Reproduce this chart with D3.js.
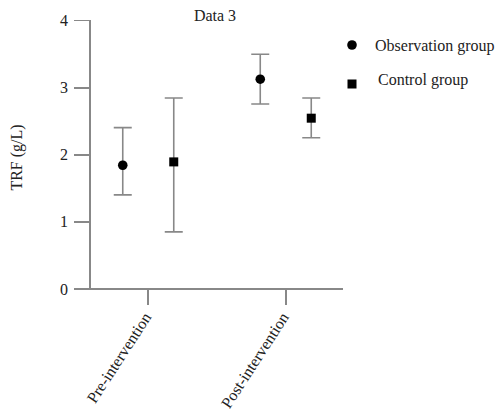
<!DOCTYPE html>
<html>
<head>
<meta charset="utf-8">
<script src="https://cdn.jsdelivr.net/npm/d3@7"></script>
<style>
	body { margin: 0; background: #fff; overflow: hidden; }
	text { font-family: "Liberation Serif", "Times New Roman", serif; fill: #222; }
</style>
</head>
<body>
<svg id="chart" width="498" height="415"></svg>
<script>
const categories = ["Pre-intervention", "Post-intervention"];
const groups = ["Observation group", "Control group"];
const means = [[1.84, 3.12], [1.89, 2.54]];
const upper = [[2.40, 3.49], [2.84, 2.84]];
const lower = [[1.40, 2.75], [0.85, 2.25]];
const yTicks = [0, 1, 2, 3, 4];

const svg = d3.select("#chart");
const axisColor = "#888";
const fontSize = "16px";

const y = d3.scaleLinear().domain([0, 4]).range([289, 20]);
const x = d3.scalePoint().domain(categories).range([90, 343]).padding(0.42);
const offset = d3.scalePoint().domain(groups).range([-25, 26]);

// y axis
const yAxis = svg.append("g")
	.attr("transform", "translate(90,0)")
	.call(d3.axisLeft(y).tickValues(yTicks).tickSize(16).tickPadding(6).tickFormat(d3.format("d")));
yAxis.select(".domain").attr("stroke", axisColor).attr("stroke-width", 1.6).attr("d", `M0,${y(4)}V${y(0)}`);
yAxis.selectAll(".tick line").attr("stroke", axisColor).attr("stroke-width", 1.6);
yAxis.selectAll(".tick text").style("font-size", fontSize).style("fill", "#222");

// x axis
const xAxis = svg.append("g")
	.attr("transform", `translate(0,${y(0)})`)
	.call(d3.axisBottom(x).tickSize(16).tickPadding(6));
xAxis.select(".domain").attr("stroke", axisColor).attr("stroke-width", 1.6).attr("d", "M74,0H343");
xAxis.selectAll(".tick line").attr("stroke", axisColor).attr("stroke-width", 1.6);
xAxis.selectAll(".tick text")
	.style("font-size", fontSize).style("fill", "#222")
	.attr("text-anchor", "end")
	.attr("dy", "0.35em")
	.attr("transform", "translate(-1,25) rotate(-57)")
	.attr("x", 0).attr("y", 0);

svg.selectAll(".domain, .tick line").attr("shape-rendering", "crispEdges");

// data points
const points = [];
groups.forEach((g, gi) => {
	categories.forEach((c, ci) => {
		points.push({ group: g, gi, cat: c, mean: means[gi][ci], hi: upper[gi][ci], lo: lower[gi][ci] });
	});
});

const pg = svg.append("g").selectAll(null).data(points).enter().append("g")
	.attr("transform", d => `translate(${x(d.cat) + offset(d.group)},0)`);

pg.append("path")
	.attr("fill", "none").attr("stroke", axisColor).attr("stroke-width", 1.6)
	.attr("d", d => `M0,${y(d.hi)}V${y(d.lo)}M-9,${y(d.hi)}H9M-9,${y(d.lo)}H9`);

pg.filter(d => d.gi === 0).append("circle")
	.attr("cy", d => y(d.mean)).attr("r", 4.8).attr("fill", "#000");
pg.filter(d => d.gi === 1).append("rect")
	.attr("x", -4.5).attr("y", d => y(d.mean) - 4.5).attr("width", 9).attr("height", 9).attr("fill", "#000");

// title
svg.append("text").attr("x", 215).attr("y", 21).attr("text-anchor", "middle").style("font-size", fontSize).text("Data 3");

// y label
svg.append("text")
	.attr("transform", `translate(22,${(y(0) + y(4)) / 2 + 3}) rotate(-90)`)
	.attr("text-anchor", "middle").style("font-size", fontSize).text("TRF (g/L)");

// legend
const legend = svg.append("g").selectAll(null).data(groups).enter().append("g")
	.attr("transform", (d, i) => `translate(352,${[45, 84][i]})`);
legend.filter((d, i) => i === 0).append("circle").attr("r", 4.8).attr("fill", "#000");
legend.filter((d, i) => i === 1).append("rect").attr("x", -4.5).attr("y", -4.5).attr("width", 9).attr("height", 9).attr("fill", "#000");
legend.append("text")
	.attr("x", (d, i) => [23, 26][i]).attr("y", (d, i) => [6, 1][i])
	.style("font-size", fontSize).text(d => d);
</script>
</body>
</html>
